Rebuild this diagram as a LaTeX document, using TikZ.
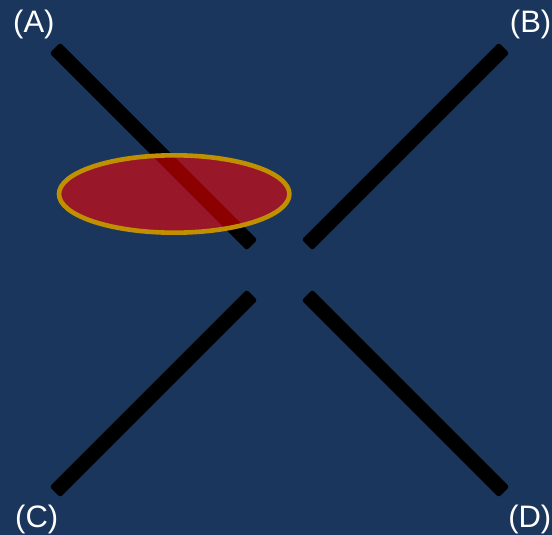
\documentclass[tikz,border=0pt]{standalone}
\usepackage{fontspec}
\setmainfont{Liberation Sans}
\usetikzlibrary{positioning}
\definecolor{bgblue}{RGB}{27,54,93}
\definecolor{rimgold}{RGB}{192,144,0}
\begin{document}
\begin{tikzpicture}[x=1pt,y=-1pt,bar/.style={fill=black,rounded corners=2.5pt,rotate=#1,minimum width=278.6pt,minimum height=15pt,inner sep=0pt},
 lbl/.style={text=white,font=\fontsize{31}{34}\selectfont,inner sep=0pt}]
\fill[bgblue] (0,0) rectangle (552,535);
\useasboundingbox (0,0) rectangle (552,535);
\node[bar=-45] (arma) at (153.5,146.5) {};
\node[bar=45] (armb) at (405.5,146.5) {};
\node[bar=45] (armc) at (153.5,393.5) {};
\node[bar=-45] (armd) at (405.5,393.5) {};
\draw[draw=rimgold,line width=4.6pt,fill=red,fill opacity=.55] (174.2,194) ellipse [x radius=115.2,y radius=38.7];
\node[lbl,anchor=base west] (la) at (13,33) {(A)};
\node[lbl,anchor=base east] (lb) at (551.5,33) {(B)};
\node[lbl,anchor=base west] (lc) at (15,527) {(C)};
\node[lbl,anchor=base east] (ld) at (551.5,527) {(D)};
\end{tikzpicture}
\end{document}
